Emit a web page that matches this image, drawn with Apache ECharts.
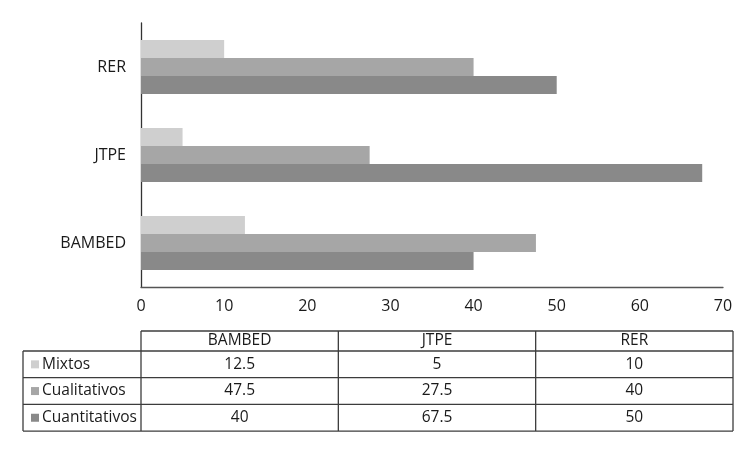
<!DOCTYPE html>
<html>
<head>
<meta charset="utf-8">
<script src="https://cdn.jsdelivr.net/npm/echarts@6/dist/echarts.min.js"></script>
<style>
  html, body { margin: 0; padding: 0; background: #fff; }
  #main { width: 756px; height: 454px; }
</style>
</head>
<body>
<div id="main"></div>
<script>
// data
var categories = ['BAMBED', 'JTPE', 'RER'];
var mixtos = [12.5, 5, 10];
var cualitativos = [47.5, 27.5, 40];
var cuantitativos = [40, 67.5, 50];
var seriesNames = ['Mixtos', 'Cualitativos', 'Cuantitativos'];
var seriesColors = ['#cfcfcf', '#a6a6a6', '#898989'];

var FONT = '"Open Sans", "Noto Sans", sans-serif';
var textColor = '#1a1a1a';
var lineColor = '#3c3c3c';

var chart = echarts.init(document.getElementById('main'));

// table under the plot, built from the same arrays
var tableRows = [mixtos, cualitativos, cuantitativos];
var tLeft = 23, tCol0 = 141, tRight = 733;
var tTop = 331, headH = 20, rowH = 26.7;
var colW = (tRight - tCol0) / categories.length;
var graphics = [];

function hline(x1, x2, y) {
    graphics.push({type: 'line', shape: {x1: x1, y1: y, x2: x2, y2: y}, style: {stroke: lineColor, lineWidth: 1.3}, silent: true});
}
function vline(x, y1, y2) {
    graphics.push({type: 'line', shape: {x1: x, y1: y1, x2: x, y2: y2}, style: {stroke: lineColor, lineWidth: 1.3}, silent: true});
}
function label(txt, x, y, align) {
    graphics.push({type: 'text', x: x, y: y, silent: true,
        style: {text: txt, fill: textColor, font: '15.5px ' + FONT, align: align, verticalAlign: 'middle'}});
}

var tBottom = tTop + headH + rowH * tableRows.length;
hline(tCol0, tRight, tTop);
for (var r = 0; r <= tableRows.length; r++) {
    hline(tLeft, tRight, tTop + headH + rowH * r);
}
vline(tLeft, tTop + headH, tBottom);
for (var c = 0; c <= categories.length; c++) {
    vline(tCol0 + colW * c, tTop, tBottom);
}
categories.forEach(function (cat, i) {
    label(cat, tCol0 + colW * (i + 0.5), tTop + headH / 2, 'center');
});
tableRows.forEach(function (row, r) {
    var cy = tTop + headH + rowH * (r + 0.5);
    graphics.push({type: 'rect', shape: {x: 31, y: cy - 4, width: 8, height: 8},
        style: {fill: seriesColors[r]}, silent: true});
    label(seriesNames[r], 42, cy, 'left');
    row.forEach(function (v, i) {
        label(String(v), tCol0 + colW * (i + 0.5), cy, 'center');
    });
});

// first series ends up on top of each band
var series = tableRows.map(function (vals, k) {
    return {
        name: seriesNames[k],
        type: 'bar',
        data: vals,
        barWidth: 18,
        barGap: '0%',
        itemStyle: {color: seriesColors[k]}
    };
});

var option = {
    animation: false,
    backgroundColor: '#fff',
    textStyle: {fontFamily: FONT},
    grid: {left: 141, right: 33, top: 23, bottom: 167},
    xAxis: {
        type: 'value',
        min: 0,
        max: 70,
        interval: 10,
        axisLine: {show: true, lineStyle: {color: '#555', width: 1.3}},
        axisTick: {show: false},
        splitLine: {show: false},
        axisLabel: {color: textColor, fontSize: 16, margin: 11, fontFamily: FONT}
    },
    yAxis: {
        type: 'category',
        data: categories,
        axisLine: {show: true, lineStyle: {color: '#333', width: 1.3}},
        axisTick: {show: false},
        axisLabel: {color: textColor, fontSize: 16, margin: 15, fontFamily: FONT}
    },
    series: series,
    graphic: graphics
};
chart.setOption(option);
</script>
</body>
</html>
